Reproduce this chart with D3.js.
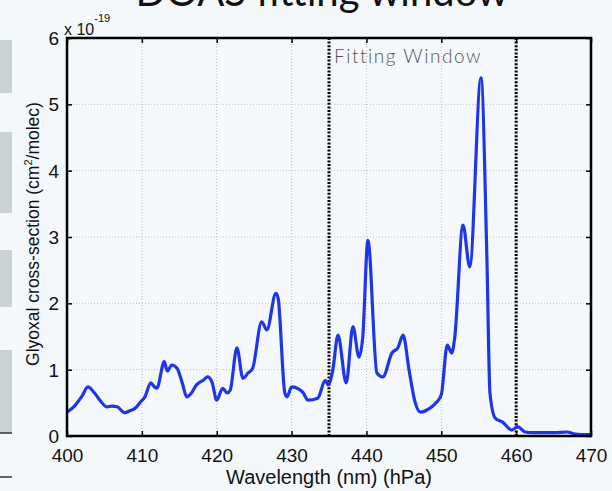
<!DOCTYPE html>
<html>
<head>
<meta charset="utf-8">
<script src="https://cdn.jsdelivr.net/npm/d3@7"></script>
<style>
  html, body { margin: 0; padding: 0; background: #f4f8fb; }
  svg { display: block; }
</style>
</head>
<body>
<div id="chart"></div>
<script>
// glyoxal cross-section (units of 1e-19 cm2/molec)
var wavelength = [400, 401, 402, 402.8, 403.6, 404.4, 405.3, 406, 406.7, 407.7, 408.4, 409.1, 409.8, 410.4,
  411.2, 411.6, 412, 413, 413.4, 414, 414.7, 415.4, 416, 416.5, 417.3, 418.2, 418.8, 419.4, 420, 420.8,
  421.4, 421.8, 422.7, 423.5, 424.2, 424.8, 426, 426.7, 427.9, 428.2, 429.1, 429.4, 430, 431.5, 432.2,
  433.5, 434.5, 434.9, 435.5, 436.2, 437.3, 438.2, 439, 439.5, 440.2, 441.4, 442.2, 443.4, 444.2, 444.9,
  445.7, 446.5, 447.2, 448.5, 449.3, 450, 450.8, 451.4, 451.8, 452.9, 453.8, 455.3, 456.1, 456.5, 457.2,
  458.2, 459.4, 460.2, 461.2, 462.2, 465, 466.8, 467.9, 470];
var crossSection = [0.36, 0.45, 0.60, 0.74, 0.66, 0.54, 0.44, 0.45, 0.44, 0.35, 0.38, 0.42, 0.51, 0.59,
  0.80, 0.75, 0.72, 1.12, 0.98, 1.07, 1.02, 0.80, 0.59, 0.63, 0.77, 0.84, 0.89, 0.80, 0.54, 0.72,
  0.65, 0.69, 1.33, 0.87, 0.95, 1.02, 1.72, 1.60, 2.15, 2.08, 0.65, 0.59, 0.74, 0.66, 0.54,
  0.57, 0.84, 0.77, 0.99, 1.52, 0.80, 1.65, 1.19, 1.48, 2.95, 0.95, 0.89, 1.25, 1.33, 1.52,
  0.99, 0.51, 0.36, 0.42, 0.50, 0.62, 1.37, 1.25, 1.49, 3.18, 2.55, 5.40, 2.65, 0.65, 0.27,
  0.21, 0.09, 0.14, 0.06, 0.05, 0.05, 0.06, 0.03, 0.02];
var xTicks = [400, 410, 420, 430, 440, 450, 460, 470];
var yTicks = [0, 1, 2, 3, 4, 5, 6];
var windowEdges = [435, 460];
var sideBoxes = [[40, 93], [132, 213], [250, 307], [350, 433]];

var width = 612, height = 491;
var pLeft = 67, pRight = 591, pTop = 38, pBottom = 436;

var svg = d3.select("#chart").append("svg").attr("width", width).attr("height", height);
svg.append("rect").attr("width", width).attr("height", height).attr("fill", "#f4f8fb");

// bits of the slide at the left edge
svg.selectAll(".side").data(sideBoxes).enter().append("rect")
  .attr("x", 0).attr("y", function(d){ return d[0]; })
  .attr("width", 12).attr("height", function(d){ return d[1] - d[0]; })
  .attr("fill", "#c9d2d5");
svg.append("line").attr("x1", 0).attr("x2", 12).attr("y1", 433).attr("y2", 433).attr("stroke", "#333").attr("stroke-width", 1.5);
svg.append("line").attr("x1", 0).attr("x2", 12).attr("y1", 477).attr("y2", 477).attr("stroke", "#333").attr("stroke-width", 1.5);

// slide title, cut off at the top
svg.append("text").attr("x", 322).attr("y", 6).attr("text-anchor", "middle")
  .attr("font-family", "Lato, 'Open Sans', sans-serif").attr("font-size", 40).attr("fill", "#111")
  .text("DOAS fitting window");

var x = d3.scaleLinear().domain([400, 470]).range([pLeft, pRight]);
var y = d3.scaleLinear().domain([0, 6]).range([pBottom, pTop]);

var plot = svg.append("g");

// dotted grid
plot.selectAll(".vgrid").data(xTicks.slice(1, -1)).enter().append("line")
  .attr("x1", function(d){ return x(d); }).attr("x2", function(d){ return x(d); })
  .attr("y1", pTop).attr("y2", pBottom)
  .attr("stroke", "#b8c2c4").attr("stroke-width", 1).attr("stroke-dasharray", "1,2");
plot.selectAll(".hgrid").data(yTicks.slice(1, -1)).enter().append("line")
  .attr("y1", function(d){ return y(d); }).attr("y2", function(d){ return y(d); })
  .attr("x1", pLeft).attr("x2", pRight)
  .attr("stroke", "#b8c2c4").attr("stroke-width", 1).attr("stroke-dasharray", "1,2");

// fitting window edges
plot.selectAll(".edge").data(windowEdges).enter().append("line")
  .attr("x1", function(d){ return x(d); }).attr("x2", function(d){ return x(d); })
  .attr("y1", pTop).attr("y2", pBottom)
  .attr("stroke", "#000").attr("stroke-width", 3).attr("stroke-dasharray", "2,1.6");

svg.append("text").attr("x", 334).attr("y", 63)
  .attr("font-family", "Lato, 'DejaVu Sans', sans-serif").attr("font-weight", 300)
  .attr("font-size", 19).attr("fill", "#555").attr("letter-spacing", 2.5)
  .attr("textLength", 149).attr("lengthAdjust", "spacing")
  .text("Fitting Window");

// spectrum
var data = wavelength.map(function(w, i){ return {w: w, v: crossSection[i]}; });
var line = d3.line().curve(d3.curveMonotoneX)
  .x(function(d){ return x(d.w); })
  .y(function(d){ return y(d.v); });
plot.append("path").datum(data).attr("d", line)
  .attr("fill", "none").attr("stroke", "#1f35e8").attr("stroke-width", 3.2)
  .attr("stroke-linejoin", "round");

// axes, ticks inside like matlab
var axFont = "'Liberation Sans', Arial, sans-serif";
var xAxis = svg.append("g").attr("transform", "translate(0," + pBottom + ")")
  .call(d3.axisBottom(x).tickValues(xTicks).tickSize(-5).tickPadding(12).tickFormat(d3.format("d")));
var xTop = svg.append("g").attr("transform", "translate(0," + pTop + ")")
  .call(d3.axisTop(x).tickValues(xTicks).tickSize(-5).tickFormat(""));
var yAxis = svg.append("g").attr("transform", "translate(" + pLeft + ",0)")
  .call(d3.axisLeft(y).tickValues(yTicks).tickSize(-5).tickPadding(8).tickFormat(d3.format("d")));
var yRight = svg.append("g").attr("transform", "translate(" + pRight + ",0)")
  .call(d3.axisRight(y).tickValues(yTicks).tickSize(-5).tickFormat(""));

[xAxis, xTop, yAxis, yRight].forEach(function(g){
  g.select(".domain").remove();
  g.selectAll(".tick line").attr("stroke", "#000").attr("stroke-width", 1.5);
  g.selectAll("text").attr("font-family", axFont).attr("font-size", 19).attr("fill", "#111");
});
xAxis.selectAll("text").attr("dy", "0.75em");
yAxis.selectAll("text").attr("dy", "0.34em");

svg.append("rect").attr("x", pLeft).attr("y", pTop).attr("width", pRight - pLeft).attr("height", pBottom - pTop)
  .attr("fill", "none").attr("stroke", "#000").attr("stroke-width", 2.5);

// exponent label
var expo = svg.append("text").attr("x", 64).attr("y", 35)
  .attr("font-family", axFont).attr("font-size", 16).attr("fill", "#111");
expo.append("tspan").text("x 10");
expo.append("tspan").attr("dy", -13).attr("font-size", 11).text("-19");

// axis titles
svg.append("text").attr("x", 329).attr("y", 484).attr("text-anchor", "middle")
  .attr("font-family", axFont).attr("font-size", 20).attr("fill", "#111")
  .text("Wavelength (nm) (hPa)");
var yt = svg.append("text").attr("transform", "translate(39,234) rotate(-90)").attr("text-anchor", "middle")
  .attr("font-family", axFont).attr("font-size", 17.5).attr("fill", "#111");
yt.append("tspan").text("Glyoxal cross-section (cm");
yt.append("tspan").attr("dy", -7).attr("font-size", 11).text("2");
yt.append("tspan").attr("dy", 7).text("/molec)");
</script>
</body>
</html>
